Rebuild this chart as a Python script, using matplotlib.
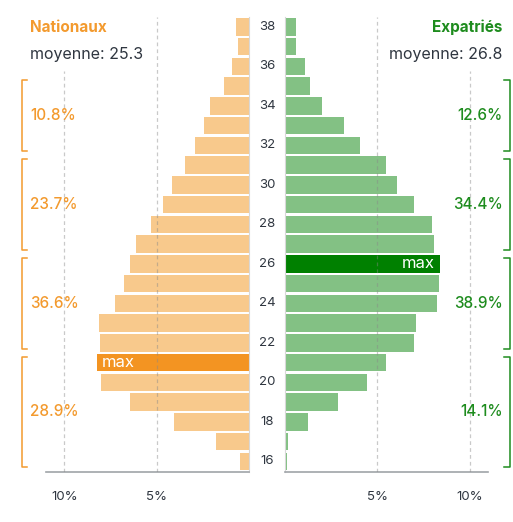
import matplotlib
matplotlib.use("Agg")
import matplotlib.pyplot as plt
from matplotlib.transforms import blended_transform_factory

plt.rcParams['font.family'] = ['Inter', 'DejaVu Sans']

ages = list(range(16, 39))
nationaux = [0.49, 1.79, 4.08, 6.47, 8.04, 8.26, 8.10, 8.15, 7.28, 6.79, 6.47,
             6.14, 5.33, 4.67, 4.18, 3.48, 2.93, 2.45, 2.12, 1.36, 0.92, 0.60, 0.71]
expatries = [0.11, 0.16, 1.25, 2.88, 4.46, 5.49, 7.01, 7.12, 8.26, 8.37, 8.42,
             8.10, 7.99, 7.01, 6.09, 5.49, 4.08, 3.21, 2.01, 1.36, 1.09, 0.60, 0.60]
nat_title = "Nationaux"
exp_title = "Expatriés"
nat_mean = "moyenne: 25.3"
exp_mean = "moyenne: 26.8"
# groups: (low age, high age, label)
nat_groups = [(16, 21, "28.9%"), (22, 26, "36.6%"), (27, 31, "23.7%"), (32, 35, "10.8%")]
exp_groups = [(16, 21, "14.1%"), (22, 26, "38.9%"), (27, 31, "34.4%"), (32, 35, "12.6%")]
xticks = [5, 10]
xticklabels = ["5%", "10%"]
yticks = list(range(16, 39, 2))

ORANGE_L = "#f8c98c"
ORANGE_D = "#f39422"
ORANGE_T = "#f39a2e"
GREEN_L = "#83c184"
GREEN_D = "#008000"
GREEN_T = "#1e8c1e"
DARK = "#2f3640"

W, H = 513, 522
fig = plt.figure(figsize=(W / 100, H / 100), dpi=100)
bottom = 50 / H
height = 455 / H
axL = fig.add_axes([46 / W, bottom, 203 / W, height])
axR = fig.add_axes([285 / W, bottom, 203 / W, height])

ylim = (15.46, 38.5)
nat_max = nationaux.index(max(nationaux))
exp_max = expatries.index(max(expatries))

for ax, vals, cl, cd, imax in [(axL, nationaux, ORANGE_L, ORANGE_D, nat_max),
                               (axR, expatries, GREEN_L, GREEN_D, exp_max)]:
    colors = [cd if i == imax else cl for i in range(len(vals))]
    ax.barh(ages, vals, height=0.89, color=colors, zorder=1)
    ax.set_xlim(0, 11)
    ax.set_ylim(*ylim)
    ax.set_yticks([])
    ax.set_xticks(xticks)
    ax.set_xticklabels(xticklabels, color=DARK, fontsize=9.5)
    ax.tick_params(axis='x', length=0, pad=14)
    for s in ax.spines.values():
        s.set_visible(False)
    ax.spines['bottom'].set_visible(True)
    ax.spines['bottom'].set_color('#a0a4a8')
    ax.spines['bottom'].set_linewidth(1.2)
    # grid
    ax.vlines(5, ylim[0], ylim[1], colors='#888888', alpha=0.45, linewidth=0.9,
              linestyles=(0, (3, 2.5)), zorder=3)
    ax.vlines(10, ylim[0], 35.77, colors='#888888', alpha=0.45, linewidth=0.9,
              linestyles=(0, (3, 2.5)), zorder=3)
    ax.set_facecolor('none')

axL.invert_xaxis()
axL.spines['right'].set_visible(True)
axL.spines['right'].set_color('#d8d8d8')
axR.spines['left'].set_visible(True)
axR.spines['left'].set_color('#d8d8d8')

# max labels
axL.text(nationaux[nat_max] - 0.3, ages[nat_max], "max", color='white', fontsize=12,
         ha='left', va='center', zorder=4)
axR.text(expatries[exp_max] - 0.3, ages[exp_max], "max", color='white', fontsize=12,
         ha='right', va='center', zorder=4)

# y tick labels between panels
tr = blended_transform_factory(fig.transFigure, axL.transData)
for a in yticks:
    fig.text(267 / W, a, str(a), transform=tr, ha='center', va='center',
             fontsize=9.5, color=DARK)

# titles
fig.text(30 / W, 1 - 27 / H, nat_title, color=ORANGE_T, fontsize=11, fontweight='bold',
         ha='left', va='center')
fig.text(502 / W, 1 - 27 / H, exp_title, color=GREEN_T, fontsize=11, fontweight='bold',
         ha='right', va='center')
fig.text(30 / W, 1 - 55 / H, nat_mean, color=DARK, fontsize=11.5, ha='left', va='center')
fig.text(502 / W, 1 - 55 / H, exp_mean, color=DARK, fontsize=11.5, ha='right', va='center')

# brackets
inset = 0.2
def bracket(groups, xv, xt, xlab, ha, color):
    for lo, hi, lab in groups:
        y0 = lo - 0.5 + inset
        y1 = hi + 0.5 - inset
        fig.add_artist(plt.Line2D([xt, xv, xv, xt], [y0, y0, y1, y1], transform=tr,
                                  color=color, linewidth=1.1))
        fig.text(xlab, (y0 + y1) / 2, lab, transform=tr, ha=ha, va='center',
                 fontsize=11, color=color, fontweight='medium')

bracket(nat_groups, 21.5 / W, 27 / W, 30 / W, 'left', ORANGE_T)
bracket(exp_groups, 509.5 / W, 504 / W, 502.5 / W, 'right', GREEN_T)

fig.savefig("out.png", dpi=100)
